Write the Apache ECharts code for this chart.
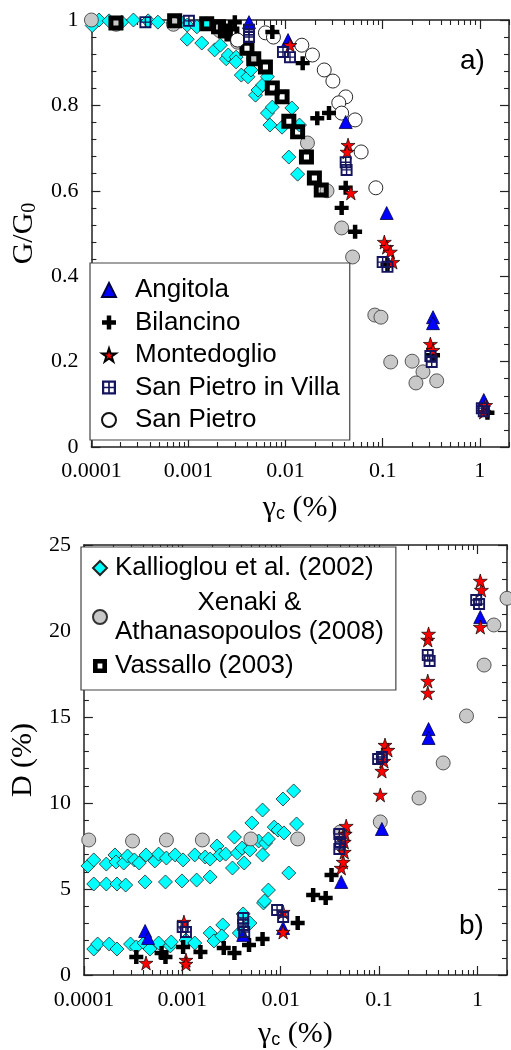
<!DOCTYPE html>
<html>
<head>
<meta charset="utf-8">
<script src="https://cdn.jsdelivr.net/npm/echarts@6/dist/echarts.min.js"></script>
<style>
html,body{margin:0;padding:0;background:#fff}
#chart{width:511px;height:1050px}
</style>
</head>
<body>
<div id="chart"></div>
<script>
// Shear strain (%) versus normalised modulus G/G0 (panel a) and damping D (%) (panel b)

// ---------- axis ticks ----------
const xTickValues = [0.0001, 0.001, 0.01, 0.1, 1];
const xTickLabels = ['0.0001', '0.001', '0.01', '0.1', '1'];
const xMinorTicks = [];
xTickValues.forEach(function (d) { for (let m = 2; m <= 9; m++) { const v = +(d * m).toPrecision(3); if (v <= 2) xMinorTicks.push(v); } });

// ---------- panel a: G/G0 ----------
const kalliogluG = [
  [0.000102,0.987],[0.00012,1.0],[0.000152,0.998],[0.000205,0.995],[0.000271,1.0],[0.000384,0.998],
  [0.000484,0.995],[0.00069,0.993],[0.00081,0.998],[0.00097,0.988],[0.00122,0.984],[0.00154,0.991],[0.00194,0.981],
  [0.00097,0.955],[0.00137,0.946],[0.00186,0.930],[0.00213,0.941],[0.00245,0.909],[0.00257,0.918],
  [0.00309,0.913],[0.00309,0.902],[0.0035,0.871],[0.0041,0.867],[0.0044,0.883],[0.0049,0.824],
  [0.0052,0.836],[0.0058,0.848],[0.0065,0.867],[0.0065,0.782],[0.0073,0.796],[0.0069,0.754],
  [0.0092,0.749],[0.0116,0.794],[0.0139,0.754],[0.0108,0.679],[0.0133,0.639]
];
const xenakiG = [
  [0.0001,1.0],[0.00018,0.99],[0.0007,0.99],[0.0021,0.975],[0.0032,0.948],[0.0047,0.909],
  [0.0168,0.712],[0.0267,0.600],[0.0378,0.513],[0.049,0.445],[0.083,0.309],[0.096,0.304],
  [0.121,0.199],[0.201,0.201],[0.26,0.176],[0.22,0.150],[0.36,0.155]
];
const vassalloG = [
  [0.000179,0.993],[0.00072,0.998],[0.00154,0.991],[0.00204,0.984],[0.0024,0.974],[0.0028,0.967],
  [0.0040,0.934],[0.0047,0.909],[0.0062,0.890],[0.0073,0.841],[0.0092,0.820],[0.0108,0.763],
  [0.0133,0.738],[0.0164,0.679],[0.0198,0.630],[0.0233,0.602]
];
const sanPietroG = [
  [0.0032,0.953],[0.0062,0.970],[0.0075,0.960],[0.0147,0.941],[0.0189,0.918],[0.025,0.883],
  [0.0307,0.857],[0.0416,0.820],[0.0353,0.806],[0.0378,0.782],[0.052,0.766],[0.060,0.691],[0.085,0.607]
];
const bilancinoG = [
  [0.0030,0.995],[0.0073,0.972],[0.0150,0.899],[0.0212,0.770],[0.028,0.782],[0.0416,0.607],
  [0.0378,0.560],[0.052,0.504],[0.112,0.426],[0.33,0.215],[1.2,0.080]
];
const angitolaG = [
  [0.0042,0.995],[0.0106,0.953],[0.0416,0.761],[0.110,0.548],[0.33,0.304],[0.33,0.290],[1.1,0.110]
];
const montedoglioG = [
  [0.0111,0.941],[0.044,0.707],[0.043,0.691],[0.047,0.595],[0.104,0.480],[0.110,0.468],
  [0.120,0.457],[0.127,0.433],[0.31,0.241],[0.33,0.227],[1.1,0.082],[1.15,0.098]
];
const spvG = [
  [0.00036,0.995],[0.00101,0.998],[0.0042,0.977],[0.0042,0.960],[0.0094,0.925],[0.0111,0.913],
  [0.0416,0.667],[0.0425,0.649],[0.100,0.433],[0.112,0.422],[0.31,0.213],[0.32,0.199],[1.05,0.091],[1.1,0.084]
];

// ---------- panel b: D (%) ----------
const kalliogluD = [
  [0.00011,6.34],[0.000126,6.69],[0.000169,6.45],[0.000207,6.98],[0.000212,6.57],[0.000254,6.51],
  [0.000278,6.92],[0.000326,6.69],[0.000365,6.51],[0.000428,6.98],[0.000526,6.63],[0.000575,7.03],
  [0.00069,6.80],[0.000847,6.98],[0.00102,6.69],[0.00134,6.98],[0.00171,6.86],[0.00192,6.74],
  [0.00225,7.50],[0.00241,6.98],[0.00276,7.03],[0.00324,6.22],[0.00339,8.02],[0.00363,7.09],
  [0.00406,7.38],[0.00426,6.51],[0.00487,7.27],[0.0051,8.84],[0.00598,7.79],[0.00655,6.98],
  [0.00655,9.59],[0.00702,7.67],[0.00751,7.91],[0.00861,8.60],[0.00942,8.43],[0.01056,10.23],
  [0.01081,8.26],[0.01357,10.70],[0.01452,8.78],
  [0.000126,5.29],[0.000169,5.29],[0.000217,5.29],[0.000266,5.23],[0.000419,5.41],[0.000675,5.41],
  [0.000993,5.47],[0.0014,5.52],[0.00192,5.70],[0.0121,5.93],
  [0.000126,1.51],[0.000138,1.80],[0.000181,1.80],[0.000217,1.51],[0.000298,1.80],[0.000341,1.63],
  [0.000409,1.86],[0.000469,1.51],[0.000575,1.86],[0.000756,1.69],[0.000773,1.92],[0.00109,2.03],
  [0.00134,1.86],[0.00192,2.44],[0.0021,1.98],[0.00258,2.91],[0.00252,2.27],[0.00416,3.55],
  [0.00487,3.02],[0.0038,2.44],[0.0067,4.19],[0.00686,4.30],[0.00751,4.94]
];
const xenakiD = [
  [0.000112,7.85],[0.000312,7.79],[0.00069,7.85],[0.0016,7.85],[0.00498,7.91],[0.0149,7.91],
  [0.0404,8.31],[0.103,8.90],[0.255,10.29],[0.449,12.33],[0.775,15.06],[1.17,18.02],[1.47,20.35],[2.0,21.9]
];
const bilancinoD = [
  [0.000341,1.05],[0.000616,1.28],[0.000675,1.05],[0.00102,1.63],[0.00153,1.34],[0.00264,1.57],
  [0.00339,1.28],[0.00477,1.74],[0.00655,2.09],[0.0149,3.02],[0.0214,4.65],[0.0287,4.48],[0.0329,5.81]
];
const angitolaD = [
  [0.000419,2.56],[0.000449,2.15],[0.00416,2.33],[0.0106,2.73],[0.0413,5.41],[0.107,8.49],
  [0.319,14.30],[0.319,13.78],[1.07,20.81]
];
const montedoglioD = [
  [0.000428,0.70],[0.00109,0.87],[0.00109,0.64],[0.00104,3.08],[0.0106,2.50],[0.0106,3.66],
  [0.0413,6.22],[0.0433,6.57],[0.0443,7.15],[0.0443,7.73],[0.0453,8.20],[0.0464,8.66],
  [0.103,10.47],[0.107,11.86],[0.112,12.44],[0.115,13.37],[0.123,13.08],
  [0.313,16.40],[0.313,17.09],[0.313,19.48],[0.319,19.83],[1.07,20.23],[1.10,22.38],[1.07,22.91]
];
const spvD = [
  [0.00101,2.79],[0.00109,2.50],[0.00416,3.31],[0.00416,2.91],[0.00426,2.50],[0.0092,3.78],
  [0.0106,3.37],[0.0395,8.20],[0.0404,7.73],[0.0395,7.33],[0.098,12.56],[0.107,12.67],
  [0.313,18.60],[0.327,18.26],[0.973,21.80],[1.04,21.57]
];

// ---------- marker styles ----------
const KAL = 'Kallioglou et al. (2002)';
const XEN = 'Xenaki & Athanasopoulos (2008)';
const VAS = 'Vassallo (2003)';
const STAR = 'path://M50,0L61.2,34.5L97.6,34.5L68.2,55.9L79.4,90.5L50,69.1L20.6,90.5L31.8,55.9L2.4,34.5L38.8,34.5Z';
const PLUS = 'path://M34,0H66V34H100V66H66V100H34V66H0V34H34Z';
const GRIDSQ = 'path://M0,0H100V100H0Z M16,16V44H44V16Z M56,16V44H84V16Z M16,56V84H44V56Z M56,56V84H84V56Z';
const BOXSQ = 'path://M0,0H100V100H0Z M33,33V67H67V33Z';

const markers = {
  kal: { name: KAL, symbol: 'diamond', symbolSize: 14, itemStyle: { color: '#00ffff', borderColor: '#222', borderWidth: 0.8 } },
  xen: { name: XEN, symbol: 'circle', symbolSize: 14, itemStyle: { color: '#c8c8c8', borderColor: '#333', borderWidth: 0.8 } },
  vas: { name: VAS, symbol: BOXSQ, symbolSize: 15, itemStyle: { color: '#000' } },
  sp:  { name: 'San Pietro', symbol: 'circle', symbolSize: 14, itemStyle: { color: '#fff', borderColor: '#111', borderWidth: 0.9 } },
  bil: { name: 'Bilancino', symbol: PLUS, symbolSize: 14, itemStyle: { color: '#000' } },
  ang: { name: 'Angitola', symbol: 'triangle', symbolSize: 13, itemStyle: { color: '#0000ff', borderColor: '#000044', borderWidth: 0.8 } },
  mon: { name: 'Montedoglio', symbol: STAR, symbolSize: 14, itemStyle: { color: '#ff0000', borderColor: '#000', borderWidth: 0.7 } },
  spv: { name: 'San Pietro in Villa', symbol: GRIDSQ, symbolSize: 12, itemStyle: { color: '#15155e' } }
};

function scatter(m, data, panel) {
  return {
    type: 'scatter', name: m.name, symbol: m.symbol, symbolSize: m.symbolSize,
    itemStyle: Object.assign({ opacity: 1 }, m.itemStyle), data: data,
    xAxisIndex: panel === 0 ? 0 : 4, yAxisIndex: panel === 0 ? 0 : 2,
    animation: false, emphasis: { disabled: true }
  };
}

// ---------- axes ----------
const AXC = '#222';
const SERIF = '"Liberation Serif", "Times New Roman", serif';
const SANS = '"Liberation Sans", Arial, sans-serif';

function xAxesFor(grid, labelMargin, nameGap) {
  const base = { type: 'log', logBase: 10, gridIndex: grid, min: 0.0001, max: 2, splitLine: { show: false } };
  const line = { show: true, lineStyle: { color: AXC, width: 1.5 } };
  return [
    Object.assign({}, base, {
      position: 'bottom', axisLine: line,
      axisTick: { show: true, inside: true, length: 9, customValues: xTickValues, lineStyle: { color: AXC, width: 1.2 } },
      axisLabel: { show: true, customValues: xTickValues, margin: labelMargin, color: '#000', fontFamily: SERIF, fontSize: 22,
        formatter: function (v) { return xTickLabels[Math.round(Math.log10(v)) + 4]; } },
      name: '{g|\u03b3}{s|c}{g| (%)}', nameLocation: 'middle', nameGap: nameGap,
      nameTextStyle: { rich: {
        g: { fontFamily: SERIF, fontSize: 30, color: '#000', lineHeight: 30 },
        s: { fontFamily: SANS, fontSize: 18, color: '#000', lineHeight: 18, padding: [12, 0, 0, 0] } } }
    }),
    Object.assign({}, base, {
      position: 'bottom', axisLine: { show: false },
      axisTick: { show: true, inside: true, length: 5, customValues: xMinorTicks, lineStyle: { color: AXC, width: 1.1 } },
      axisLabel: { show: false }
    }),
    Object.assign({}, base, {
      position: 'top', axisLine: line,
      axisTick: { show: true, inside: true, length: 9, customValues: xTickValues, lineStyle: { color: AXC, width: 1.2 } },
      axisLabel: { show: false }
    }),
    Object.assign({}, base, {
      position: 'top', axisLine: { show: false },
      axisTick: { show: true, inside: true, length: 5, customValues: xMinorTicks, lineStyle: { color: AXC, width: 1.1 } },
      axisLabel: { show: false }
    })
  ];
}

function yAxesFor(grid, max, interval, name, nameRich, nameGap) {
  const base = {
    type: 'value', gridIndex: grid, min: 0, max: max, interval: interval,
    splitLine: { show: false }, minorSplitLine: { show: false },
    axisLine: { show: true, lineStyle: { color: AXC, width: 1.5 } },
    axisTick: { show: true, inside: true, length: 9, lineStyle: { color: AXC, width: 1.2 } },
    minorTick: { show: true, splitNumber: 5, length: 5, lineStyle: { color: AXC, width: 1.1 } }
  };
  return [
    Object.assign({}, base, {
      position: 'left',
      axisLabel: { show: true, margin: 13, color: '#000', fontFamily: SERIF, fontSize: 22 },
      name: name, nameLocation: 'middle', nameGap: nameGap, nameRotate: 90,
      nameTextStyle: { rich: nameRich }
    }),
    Object.assign({}, base, { position: 'right', axisLabel: { show: false } })
  ];
}

const titleRich = {
  a: { fontFamily: SERIF, fontSize: 30, color: '#000', lineHeight: 30 },
  s: { fontFamily: SERIF, fontSize: 20, color: '#000', lineHeight: 20, padding: [12, 0, 0, 0] }
};

const legendText = { fontFamily: SANS, fontSize: 26, color: '#000', lineHeight: 26 };

const option = {
  backgroundColor: '#fff',
  animation: false,
  grid: [
    { left: 82, right: 2, top: 20, height: 427 },
    { left: 73, right: 4, top: 545, height: 430 }
  ],
  xAxis: xAxesFor(0, 13, 46).concat(xAxesFor(1, 14, 44)),
  yAxis: yAxesFor(0, 1, 0.2, '{a|G/G}{s|0}', titleRich, 44)
    .concat(yAxesFor(1, 25, 5, '{a|D (%)}', titleRich, 27)),
  legend: [
    {
      data: ['Angitola', 'Bilancino', 'Montedoglio', 'San Pietro in Villa', 'San Pietro'],
      orient: 'vertical', left: 90, top: 263, padding: [14, 10, 7, 11],
      itemWidth: 14, itemHeight: 14, itemGap: 6.5,
      backgroundColor: '#fff', borderColor: '#444', borderWidth: 1.2, borderRadius: 0,
      selectedMode: false,
      textStyle: Object.assign({ padding: [0, 0, 0, 14] }, legendText)
    },
    {
      data: [KAL, XEN, VAS],
      orient: 'vertical', left: 81, top: 547, padding: [7, 12, 10, 11],
      itemWidth: 14, itemHeight: 14, itemGap: 6,
      backgroundColor: '#fff', borderColor: '#444', borderWidth: 1.2, borderRadius: 0,
      selectedMode: false,
      formatter: function (n) {
        if (n === XEN) return '{c|Xenaki &}\n{n|Athanasopoulos (2008)}';
        return n;
      },
      textStyle: Object.assign({ padding: [0, 0, 0, 3], lineHeight: 28,
        rich: {
          c: { fontFamily: SANS, fontSize: 26, color: '#000', lineHeight: 29, align: 'center' },
          n: { fontFamily: SANS, fontSize: 26, color: '#000', lineHeight: 29 }
        } }, { fontFamily: SANS, fontSize: 26, color: '#000' })
    }
  ],
  graphic: [
    { type: 'text', left: 460, top: 47, style: { text: 'a)', fontFamily: SANS, fontSize: 28, fill: '#000' } },
    { type: 'text', left: 459, top: 912, style: { text: 'b)', fontFamily: SANS, fontSize: 28, fill: '#000' } }
  ],
  series: [
    scatter(markers.kal, kalliogluG, 0),
    scatter(markers.xen, xenakiG, 0),
    scatter(markers.vas, vassalloG, 0),
    scatter(markers.sp, sanPietroG, 0),
    scatter(markers.bil, bilancinoG, 0),
    scatter(markers.ang, angitolaG, 0),
    scatter(markers.mon, montedoglioG, 0),
    scatter(markers.spv, spvG, 0),
    scatter(markers.kal, kalliogluD, 1),
    scatter(markers.xen, xenakiD, 1),
    scatter(markers.bil, bilancinoD, 1),
    scatter(markers.ang, angitolaD, 1),
    scatter(markers.mon, montedoglioD, 1),
    scatter(markers.spv, spvD, 1)
  ]
};

const chart = echarts.init(document.getElementById('chart'), null, { renderer: 'canvas' });
chart.setOption(option);
</script>
</body>
</html>
